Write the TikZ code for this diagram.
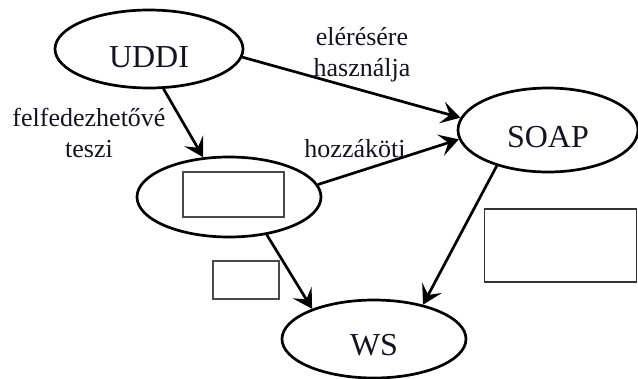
\documentclass[tikz,border=0pt]{standalone}
\usepackage{fontspec}
\setmainfont{Liberation Serif}
\usetikzlibrary{shapes.geometric,arrows.meta}
\definecolor{ink}{HTML}{141420}
\definecolor{boxline}{HTML}{4A4A4A}
\begin{document}
\begin{tikzpicture}[x=1pt,y=-1pt,
  ell/.style={ellipse,draw=black,line width=2.7pt,inner sep=0pt,text=ink,
    font=\fontsize{32}{38}\selectfont},
  emptybox/.style={rectangle,draw=boxline,line width=1.5pt,inner sep=0pt},
  conn/.style={line width=2.7pt,-{Stealth[length=19pt,width=22pt,inset=8pt]}},
  lbl/.style={text=ink,font=\fontsize{26}{30.5}\selectfont,align=center,inner sep=0pt}]
\useasboundingbox (0,0) rectangle (638,378);
% ellipses
\node[ell,minimum width=188pt,minimum height=78pt] (uddi) at (149,49) {\raisebox{-18pt}[0pt][0pt]{UDDI}};
\node[ell,minimum width=184pt,minimum height=80pt] (mid) at (229,197) {};
\node[ell,minimum width=180pt,minimum height=84pt] (soap) at (548,130) {\raisebox{-17pt}[0pt][0pt]{SOAP}};
\node[ell,minimum width=184pt,minimum height=78pt] (ws) at (374,339) {\raisebox{-16pt}[0pt][0pt]{WS}};
% empty boxes
\node[emptybox,minimum width=101pt,minimum height=45pt] (r1) at (233.5,194.5) {};
\node[emptybox,minimum width=66pt,minimum height=38pt] (r2) at (246,280) {};
\node[emptybox,draw=black!80,line width=1.8pt,minimum width=152pt,minimum height=73pt] (r3) at (560.5,245.5) {};
% connectors
\draw[conn] (uddi.-5.5) -- (soap.172.4);
\draw[conn] (uddi.-70) -- (mid.123);
\draw[conn] (mid.8.6) -- (soap.186.4);
\draw[conn] (mid.-45.7) -- (ws.154.6);
\draw[conn] (soap.215) -- (ws.35.5);
% labels
\node[lbl,anchor=base] (l1) at (89,157) {felfedezhetővé\\teszi};
\node[lbl,anchor=base] (l2) at (362,76) {elérésére\\használja};
\node[lbl,anchor=base] (l3) at (355,157) {hozzáköti};
\end{tikzpicture}
\end{document}
